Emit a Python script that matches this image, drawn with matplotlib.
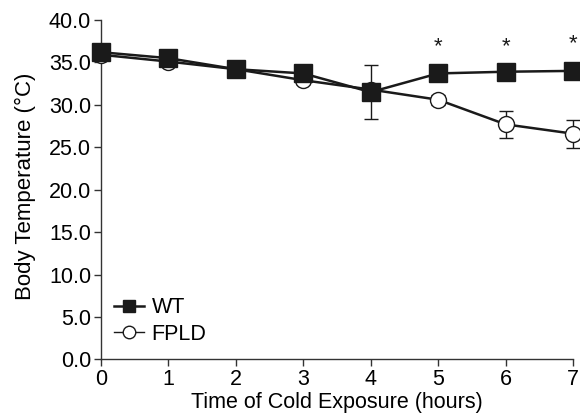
import numpy as np
import matplotlib
matplotlib.use("Agg")
import matplotlib.pyplot as plt
from matplotlib.lines import Line2D

# data
hours = [0, 1, 2, 3, 4, 5, 6, 7]
wt_temp = [36.2, 35.5, 34.2, 33.7, 31.5, 33.7, 33.9, 34.0]
wt_err = [0.3, 0.3, 0.3, 0.3, 3.2, 0.3, 0.3, 0.3]
fpld_temp = [35.9, 35.1, 34.2, 32.9, 31.8, 30.6, 27.7, 26.6]
fpld_err = [0.3, 0.3, 0.3, 0.4, 0.3, 0.6, 1.6, 1.65]
star_hours = [5, 6, 7]
star_y = [36.9, 36.9, 37.2]

plt.rcParams['font.family'] = ['Liberation Sans', 'DejaVu Sans']
fs = 15.5
ink = '#1a1a1a'

fig = plt.figure(figsize=(5.8, 4.16), dpi=100)
ax = fig.add_axes([0.174, 0.136, 0.814, 0.816])

# open circles first, squares drawn on top
ax.errorbar(hours, fpld_temp, yerr=fpld_err, color=ink, lw=1.8,
            marker='o', ms=11.5, mfc='white', mec=ink, mew=1.0,
            elinewidth=1.0, capsize=5, capthick=1.0, zorder=3)
ax.errorbar(hours, wt_temp, yerr=wt_err, color=ink, lw=1.8,
            marker='s', ms=12.5, mfc=ink, mec=ink,
            elinewidth=1.0, capsize=5, capthick=1.0, zorder=4)

for h, y in zip(star_hours, star_y):
    ax.text(h, y, '*', ha='center', va='center', fontsize=16, color=ink)

ax.set_xlim(0, 7)
ax.set_ylim(0, 40)
ax.set_xticks(hours)
ax.set_yticks(np.arange(0, 41, 5))
ax.set_yticklabels([f"{v:.1f}" for v in np.arange(0, 41, 5)])
ax.tick_params(labelsize=fs, length=5, width=1, color='#333333', pad=2)
ax.spines['top'].set_visible(False)
ax.spines['right'].set_visible(False)
for s in ['left', 'bottom']:
    ax.spines[s].set_linewidth(1.0)
    ax.spines[s].set_color('#333333')

ax.set_xlabel('Time of Cold Exposure (hours)', fontsize=fs, labelpad=1)
ax.set_ylabel('Body Temperature (°C)', fontsize=16)
ax.yaxis.set_label_coords(-0.137, 0.51)

# legend without the error bar glyphs
handles = [
    Line2D([], [], color=ink, lw=1.8, marker='s', ms=9, mfc=ink, mec=ink),
    Line2D([], [], color=ink, lw=1.0, marker='o', ms=9, mfc='white', mec=ink, mew=1.0),
]
ax.legend(handles, ['WT', 'FPLD'], loc='lower left',
          bbox_to_anchor=(0.0, 0.005), frameon=False, fontsize=fs,
          handlelength=1.4, handletextpad=0.35, labelspacing=0.25,
          borderaxespad=0.2)
for line in ax.lines:
    line.set_clip_on(False)
for coll in ax.collections:
    coll.set_clip_on(False)

fig.savefig('out.png', dpi=100)
